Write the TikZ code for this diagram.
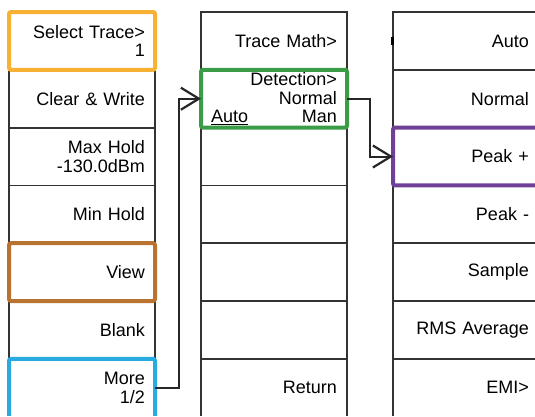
\documentclass[tikz,border=0pt]{standalone}
\usepackage{fontspec}
\setmainfont{Liberation Sans}
\usetikzlibrary{positioning, arrows.meta}

\definecolor{selorange}{RGB}{247,178,52}
\definecolor{viewbrown}{RGB}{183,115,47}
\definecolor{moreblue}{RGB}{41,170,225}
\definecolor{detgreen}{RGB}{59,156,72}
\definecolor{peakpurple}{RGB}{112,63,152}

\begin{document}
\begin{tikzpicture}[x=1pt, y=-1pt, node distance=57.8pt,
	key/.style={rectangle, draw=black!80, line width=1.8pt, minimum width=146pt, minimum height=57.8pt, text width=126pt, inner sep=0pt, outer sep=0pt, align=right, font=\fontsize{18}{18.5}\selectfont},
	hilite/.style={line width=4pt, rounded corners=2pt},
	link/.style={line width=2pt, black!85, -{Straight Barb[length=18pt, width=22pt, line width=2.2pt]}}]

			\useasboundingbox (0,0) rectangle (535,416);
			\clip (0,0) rectangle (535,415);

			% first menu
			\node[key] (1) at (82,40.9) {Select Trace>\\1};
			\node[key] (2) [below of=1] {Clear \& Write};
			\node[key] (3) [below of=2] {Max Hold\\-130.0dBm};
			\node[key] (4) [below of=3] {Min Hold};
			\node[key] (5) [below of=4] {View};
			\node[key] (6) [below of=5] {Blank};
			\node[key] (7) [below of=6] {More\\1/2};

			% second menu
			\node[key] (8) [right of=1, node distance=192pt] {Trace Math>};
			\node[key] (9) [below of=8] {Detection>\\Normal\\\underline{Auto}\hspace{\stretch{1}}Man};
			\node[key] (10) [below of=9] {};
			\node[key] (11) [below of=10] {};
			\node[key] (12) [below of=11] {};
			\node[key] (13) [below of=12] {};
			\node[key] (14) [below of=13] {Return};

			% third menu
			\node[key] (15) [right of=8, node distance=192pt] {Auto\hspace*{-6pt}};
			\node[key] (16) [below of=15] {Normal};
			\node[key] (17) [below of=16] {Peak +};
			\node[key] (18) [below of=17] {Peak -};
			\node[key] (19) [below of=18] {Sample};
			\node[key] (20) [below of=19] {RMS Average};
			\node[key] (21) [below of=20] {EMI>};
			\draw[line width=3pt] ([xshift=-0.8pt, yshift=4pt]15.west) -- ([xshift=-0.8pt, yshift=-4pt]15.west);

			% highlighted keys
			\draw[hilite, selorange] (1.north west) rectangle (1.south east);
			\draw[hilite, viewbrown] (5.north west) rectangle (5.south east);
			\draw[hilite, moreblue] (7.north west) rectangle ([yshift=-10pt]7.south east);
			\draw[hilite, detgreen] (9.north west) rectangle (9.south east);
			\draw[hilite, peakpurple] (17.north west) rectangle (17.south east);

			% menu links
			\draw[link] (7.east) -- ++(24,0) |- (9.west);
			\draw[link] (9.east) -- ++(23,0) |- (17.west);

		\end{tikzpicture}
\end{document}
